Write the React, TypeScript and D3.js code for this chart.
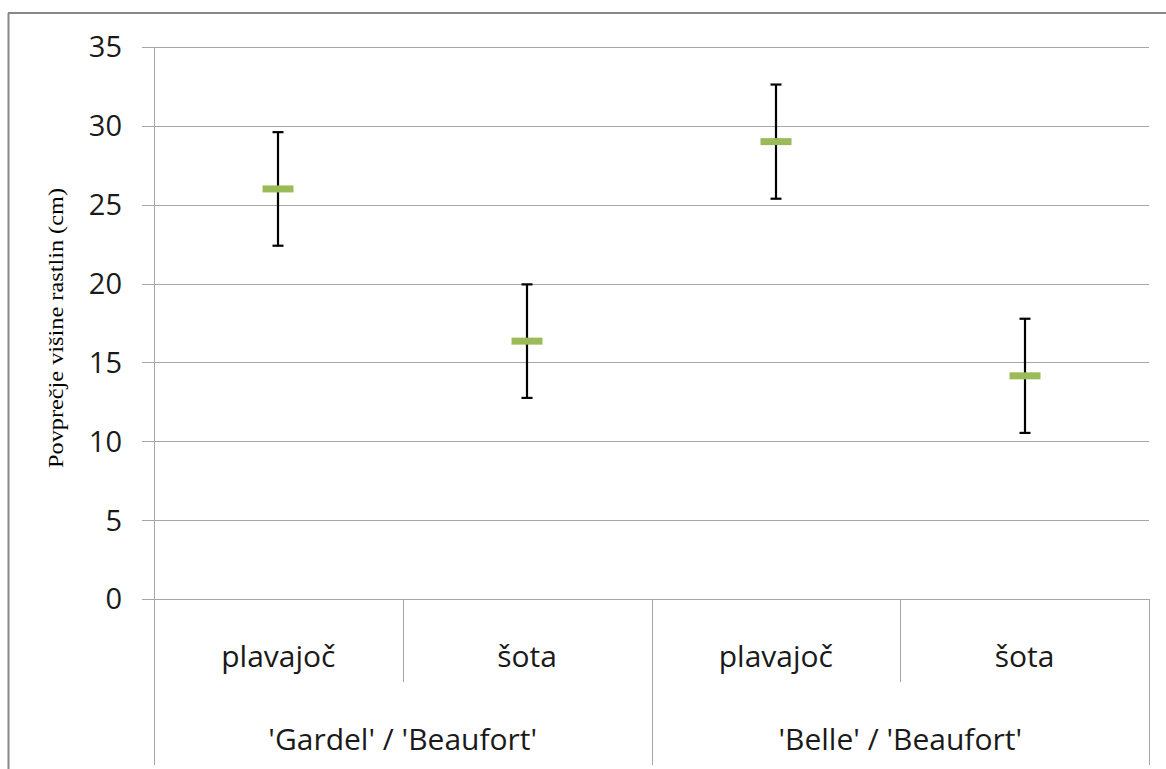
import * as d3 from 'd3';

// data
const groups = ["'Gardel' / 'Beaufort'", "'Belle' / 'Beaufort'"];
const categories = ['plavajoč', 'šota', 'plavajoč', 'šota'];
const means = [26.0, 16.35, 29.0, 14.15];
const errors = [3.6, 3.6, 3.62, 3.62];
const yTicks = [0, 5, 10, 15, 20, 25, 30, 35];

const W = 1166;
const H = 769;
const M = { left: 154, right: 1149, top: 47, bottom: 599 };
const FONT = '"Open Sans", "Noto Sans", sans-serif';
const GRID = '#a6a6a6';

export default function App() {
  const x = d3.scaleBand<number>().domain(d3.range(categories.length)).range([M.left, M.right]);
  const y = d3.scaleLinear().domain([0, 35]).range([M.bottom, M.top]);
  const bw = x.bandwidth();

  return (
    <svg width={W} height={H} style={{ position: 'absolute', left: 0, top: 0, background: '#fff' }}>
      {/* outer frame */}
      <line x1={8} y1={13} x2={W} y2={13} stroke="#888" strokeWidth={2} />
      <line x1={8.5} y1={13} x2={8.5} y2={H} stroke="#888" strokeWidth={2} />

      {/* gridlines + y ticks */}
      {yTicks.map(t => (
        <g key={t}>
          <line x1={M.left - 12} x2={M.right} y1={Math.round(y(t)) + 0.5} y2={Math.round(y(t)) + 0.5} stroke={GRID} strokeWidth={1} />
          <text x={122} y={y(t)} dy="0.36em" textAnchor="end" fontFamily={FONT} fontSize={29} fill="#1a1a1a">{t}</text>
        </g>
      ))}
      <line x1={M.left + 0.5} x2={M.left + 0.5} y1={M.top} y2={765} stroke={GRID} strokeWidth={1} />

      {/* category separators */}
      {d3.range(1, categories.length + 1).map(i => {
        const xx = Math.round(M.left + i * bw) + 0.5;
        const long = i % 2 === 0;
        return <line key={i} x1={xx} x2={xx} y1={M.bottom} y2={long ? 765 : 682} stroke={GRID} strokeWidth={1} />;
      })}

      {/* category labels */}
      {categories.map((c, i) => (
        <text key={i} x={x(i)! + bw / 2} y={667} textAnchor="middle" fontFamily={FONT} fontSize={30} fill="#1a1a1a">{c}</text>
      ))}
      {groups.map((g, i) => (
        <text key={g} x={M.left + (i * 2 + 1) * bw} y={750} textAnchor="middle" fontFamily={FONT} fontSize={30} fill="#1a1a1a">{g}</text>
      ))}

      {/* error bars */}
      {means.map((m, i) => {
        const cx = Math.round(x(i)! + bw / 2);
        const hi = y(m + errors[i]);
        const lo = y(m - errors[i]);
        return (
          <g key={i}>
            <line x1={cx} x2={cx} y1={hi} y2={lo} stroke="#000" strokeWidth={2.2} />
            <line x1={cx - 5.5} x2={cx + 5.5} y1={hi} y2={hi} stroke="#000" strokeWidth={2.2} />
            <line x1={cx - 5.5} x2={cx + 5.5} y1={lo} y2={lo} stroke="#000" strokeWidth={2.2} />
            <rect x={cx - 15.5} y={y(m) - 3.5} width={31} height={7} fill="#9bbb59" />
          </g>
        );
      })}

      {/* y title */}
      <text transform="translate(63,328) rotate(-90)" textAnchor="middle" fontFamily='"Liberation Serif", "Times New Roman", serif'
        fontSize={20} textLength={280} lengthAdjust="spacingAndGlyphs" fill="#000">Povprečje višine rastlin (cm)</text>
    </svg>
  );
}
